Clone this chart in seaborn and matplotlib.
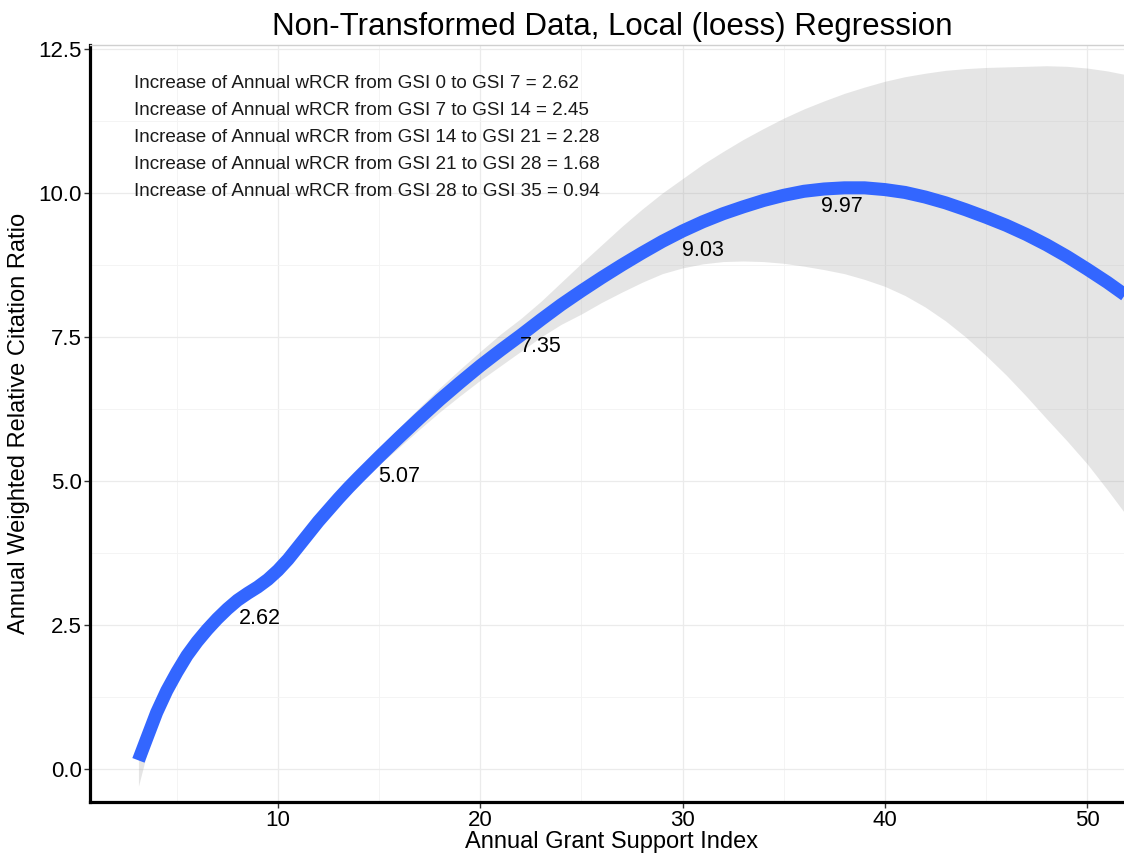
import numpy as np
import pandas as pd
import matplotlib
matplotlib.use("Agg")
import matplotlib.pyplot as plt
from matplotlib.ticker import MultipleLocator
import seaborn as sns

# ---- data ----
gsi = [3.1, 3.5, 4.0, 4.5, 5.0, 5.5, 6.0, 6.5, 7.0, 7.5, 8.0, 8.5, 9.0, 9.5,
       10.0, 10.5, 11.0, 11.5, 12.0, 12.5, 13.0, 13.5, 14.0, 15.0, 16.0, 17.0,
       18.0, 19.0, 20.0, 21.0, 22.0, 23.0, 24.0, 25.0, 26.0, 27.0, 28.0, 29.0,
       30.0, 31.0, 32.0, 33.0, 34.0, 35.0, 36.0, 37.0, 38.0, 39.0, 40.0, 41.0,
       42.0, 43.0, 44.0, 45.0, 46.0, 47.0, 48.0, 49.0, 50.0, 51.0, 52.0, 52.4]
fit = [0.15, 0.52, 0.98, 1.36, 1.68, 1.97, 2.21, 2.42, 2.61, 2.78, 2.93, 3.05,
       3.16, 3.29, 3.45, 3.64, 3.86, 4.08, 4.30, 4.50, 4.70, 4.89, 5.07, 5.42,
       5.76, 6.09, 6.41, 6.71, 7.00, 7.27, 7.53, 7.80, 8.06, 8.30, 8.53, 8.75,
       8.96, 9.16, 9.34, 9.50, 9.64, 9.76, 9.87, 9.96, 10.03, 10.07, 10.09, 10.09,
       10.06, 10.01, 9.93, 9.83, 9.71, 9.58, 9.44, 9.28, 9.10, 8.90, 8.68, 8.45,
       8.20, 8.10]
lower = [-0.30, 0.25, 0.85, 1.25, 1.58, 1.87, 2.11, 2.32, 2.51, 2.68, 2.83, 2.95,
         3.06, 3.19, 3.35, 3.54, 3.76, 3.98, 4.20, 4.40, 4.60, 4.78, 4.96, 5.28,
         5.59, 5.90, 6.20, 6.48, 6.75, 7.00, 7.25, 7.50, 7.72, 7.90, 8.10, 8.28,
         8.45, 8.60, 8.70, 8.77, 8.81, 8.82, 8.81, 8.78, 8.73, 8.67, 8.60, 8.50,
         8.38, 8.22, 8.02, 7.78, 7.50, 7.18, 6.84, 6.47, 6.08, 5.70, 5.30, 4.85,
         4.38, 4.20]
upper = [0.45, 0.75, 1.12, 1.48, 1.79, 2.07, 2.31, 2.52, 2.71, 2.88, 3.03, 3.15,
         3.26, 3.39, 3.55, 3.74, 3.96, 4.18, 4.40, 4.60, 4.80, 5.00, 5.18, 5.56,
         5.93, 6.28, 6.62, 6.94, 7.25, 7.55, 7.82, 8.12, 8.45, 8.78, 9.10, 9.42,
         9.72, 10.00, 10.25, 10.50, 10.72, 10.93, 11.12, 11.30, 11.46, 11.60, 11.73,
         11.84, 11.94, 12.02, 12.08, 12.13, 12.16, 12.18, 12.19, 12.20, 12.21, 12.20,
         12.17, 12.12, 12.05, 12.02]

label_gsi = [7, 14, 21, 28, 35]
label_values = [2.62, 5.07, 7.35, 9.03, 9.97]
label_x = [9.1, 16.0, 23.0, 31.0, 37.9]
label_y = [2.62, 5.07, 7.33, 9.01, 9.77]

increase_from = [0, 7, 14, 21, 28]
increase_to = [7, 14, 21, 28, 35]
increase_values = [2.62, 2.45, 2.28, 1.68, 0.94]
increase_y = [11.91, 11.44, 10.97, 10.50, 10.03]

title = "Non-Transformed Data, Local (loess) Regression"
xlabel = "Annual Grant Support Index"
ylabel = "Annual Weighted Relative Citation Ratio"

# ---- style ----
sns.set_theme(style="white")
plt.rcParams['font.family'] = ['Liberation Sans', 'DejaVu Sans']

df = pd.DataFrame({"gsi": gsi, "fit": fit, "lower": lower, "upper": upper})

fig = plt.figure(figsize=(11.24, 8.56), dpi=100)
ax = fig.add_axes([90 / 1124, 54 / 856, 1044 / 1124, 757 / 856])

ax.set_xlim(0.705, 52.32)
ax.set_ylim(-0.573, 12.57)

ax.xaxis.set_major_locator(MultipleLocator(10))
ax.xaxis.set_minor_locator(MultipleLocator(5))
ax.yaxis.set_major_locator(MultipleLocator(2.5))
ax.yaxis.set_minor_locator(MultipleLocator(1.25))
ax.grid(which="major", color="#EBEBEB", linewidth=0.9)
ax.grid(which="minor", color="#F3F3F3", linewidth=0.6)
ax.set_axisbelow(True)

ax.fill_between(df["gsi"], df["lower"], df["upper"], color="#999999", alpha=0.25,
                linewidth=0, zorder=2)
sns.lineplot(data=df, x="gsi", y="fit", ax=ax, color="#3366FF", linewidth=9.4,
             solid_capstyle="butt", solid_joinstyle="round", zorder=3,
             estimator=None, sort=True)

for lx, ly, v in zip(label_x, label_y, label_values):
    ax.text(lx, ly, f"{v:.2f}", ha="center", va="center", fontsize=15.5,
            color="black", zorder=4)

for a, b, v, yy in zip(increase_from, increase_to, increase_values, increase_y):
    ax.text(2.86, yy, f"Increase of Annual wRCR from GSI {a} to GSI {b} = {v:.2f}",
            ha="left", va="center", fontsize=13.6, color="#1a1a1a", zorder=4)

ax.set_title(title, fontsize=22.5, pad=7, color="black")
ax.set_xlabel(xlabel, fontsize=17, labelpad=0, color="black")
ax.set_ylabel(ylabel, fontsize=17, labelpad=6, color="black")

ax.tick_params(axis="both", which="major", labelsize=16, length=4, width=1,
               color="#333333", labelcolor="black", pad=2, left=True, bottom=True)
ax.tick_params(axis="both", which="minor", length=0)

for side in ["left", "bottom"]:
    ax.spines[side].set_color("black")
    ax.spines[side].set_linewidth(2.3)
ax.spines["top"].set_color("#D0D0D0")
ax.spines["top"].set_linewidth(1.0)
ax.spines["right"].set_visible(False)

fig.savefig("out.png", dpi=100)
